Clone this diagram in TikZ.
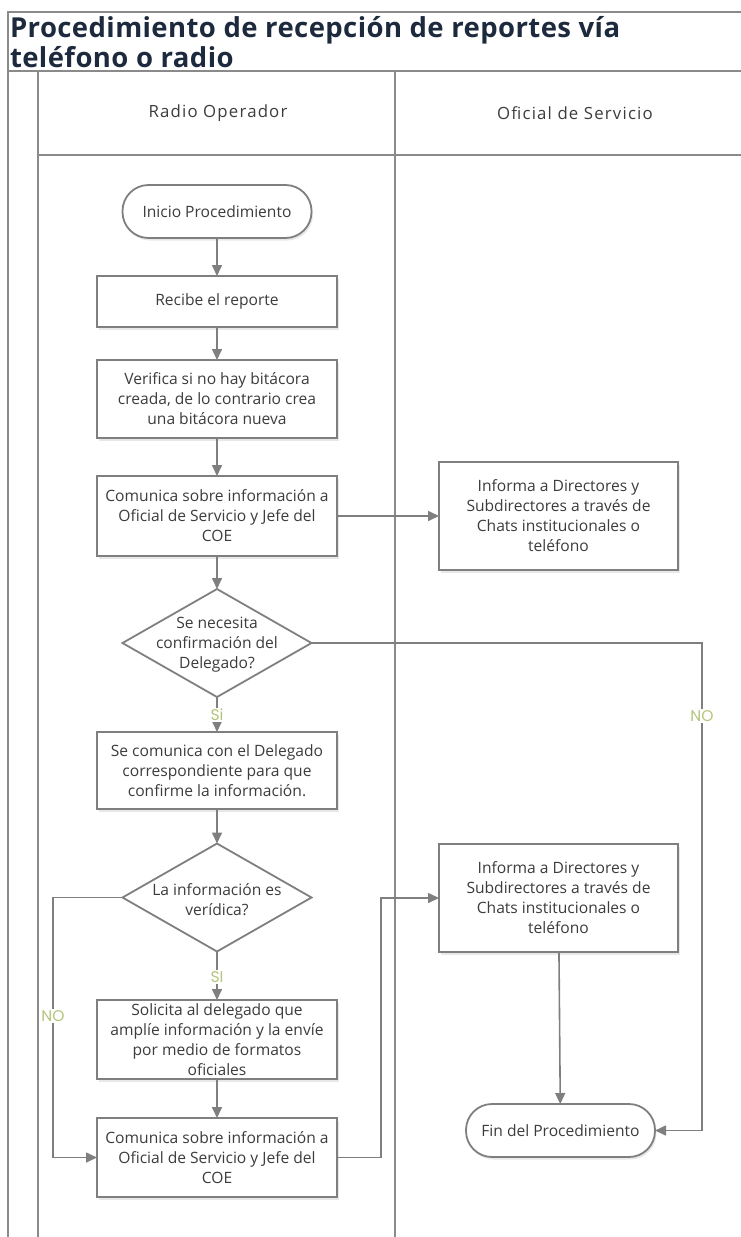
\documentclass[tikz,border=0pt]{standalone}
\usepackage{fontspec}
\setmainfont{Open Sans}
\newfontfamily\headfont{Open Sans}[LetterSpace=7]
\newfontfamily\titlefont{Open Sans}[LetterSpace=1.5]
\newfontfamily\tagfont{Poppins}
\usetikzlibrary{arrows.meta,shapes.geometric,shadows}

\definecolor{linegray}{HTML}{7F7F7F}
\definecolor{lanegray}{HTML}{8A8A8A}
\definecolor{textgray}{HTML}{3C3C3C}
\definecolor{titleblue}{HTML}{1D2A3E}
\definecolor{taggreen}{HTML}{B3C47C}

\begin{document}
\begin{tikzpicture}[x=1pt,y=-1pt,
  every node/.style={inner sep=0pt,outer sep=0pt},
  lane/.style={draw=lanegray,line width=2pt},
  softshadow/.style={drop shadow={opacity=0.18,shadow xshift=1.5pt,shadow yshift=-2.5pt}},
  bodytext/.style={text=textgray,align=center,font=\fontsize{15.6}{20}\selectfont},
  procbox/.style={rectangle,draw=linegray,line width=1.8pt,fill=white,
    minimum width=#1,softshadow,bodytext},
  procbox/.default=240pt,
  terminal/.style={rectangle,rounded corners=26pt,draw=linegray,line width=1.8pt,
    fill=white,minimum width=189pt,minimum height=53pt,softshadow,bodytext},
  decision/.style={diamond,draw=linegray,line width=1.8pt,fill=white,
    minimum width=189pt,minimum height=108pt},
  conn/.style={draw=linegray,line width=1.6pt,-{Triangle[length=11pt,width=10pt]}},
  tag/.style={fill=white,inner sep=1pt,text=taggreen,font=\tagfont\fontsize{15.5}{16}\selectfont},
  header/.style={text=textgray,font=\headfont\fontsize{16.8}{18}\selectfont},
  titletext/.style={anchor=base west,text=titleblue,font=\titlefont\bfseries\fontsize{27.5}{30}\selectfont}
]
\useasboundingbox (0,0) rectangle (740,1237);

% pool frame and swimlanes
\draw[lane] (8,1240) -- (8,12) -- (742,12);
\draw[lane] (8,71) -- (742,71);
\draw[lane] (37.5,71) -- (37.5,1240);
\draw[lane] (37.5,155) -- (742,155);
\draw[lane] (395,71) -- (395,1240);

% title and lane headers
\node[titletext] (title1) at (10,37) {Procedimiento de recepción de reportes vía};
\node[titletext] (title2) at (10,67) {teléfono o radio};
\node[header] (lane1) at (218,113) {Radio Operador};
\node[header] (lane2) at (575,113) {Oficial de Servicio};

% Radio Operador lane
\node[terminal] (start) at (217,211.5) {Inicio Procedimiento};
\node[procbox,minimum height=51pt] (recibe) at (217,301.5) {Recibe el reporte};
\node[procbox,minimum height=78pt] (verifica) at (217,399)
  {Verifica si no hay bitácora\\creada, de lo contrario crea\\una bitácora nueva};
\node[procbox,minimum height=80pt] (com1) at (217,516)
  {Comunica sobre información a\\Oficial de Servicio y Jefe del\\COE};
\node[decision] (d1) at (217,643) {};
\node[bodytext] (d1t) at (217,645) {Se necesita\\confirmación del\\Delegado?};
\node[procbox,minimum height=77pt] (contacta) at (217,770.5)
  {Se comunica con el Delegado\\correspondiente para que\\confirme la información.};
\node[decision] (d2) at (217,897.5) {};
\node[bodytext] (d2t) at (217,900) {La información es\\verídica?};
\node[procbox,minimum height=79pt] (solicita) at (217,1039.5)
  {Solicita al delegado que\\amplíe información y la envíe\\por medio de formatos\\oficiales};
\node[procbox,minimum height=79pt] (com2) at (217,1157.5)
  {Comunica sobre información a\\Oficial de Servicio y Jefe del\\COE};

% Oficial de Servicio lane
\node[procbox=239pt,minimum height=108pt] (inf1) at (558.5,516)
  {Informa a Directores y\\Subdirectores a través de\\Chats institucionales o\\teléfono};
\node[procbox=239pt,minimum height=108pt] (inf2) at (558.5,898)
  {Informa a Directores y\\Subdirectores a través de\\Chats institucionales o\\teléfono};
\node[terminal] (fin) at (560.5,1130.5) {Fin del Procedimiento};

% bend points
\coordinate (noR) at (702,643);
\coordinate (noL) at (53,897.5);
\coordinate (upR) at (381,1157.5);

% connectors
\draw[conn] (start) -- (recibe);
\draw[conn] (recibe) -- (verifica);
\draw[conn] (verifica) -- (com1);
\draw[conn] (com1) -- (inf1);
\draw[conn] (com1) -- (d1);
\draw[conn] (d1.south) -- (contacta);
\draw[conn] (d1.east) -- (noR) |- (fin.east);
\draw[conn] (contacta) -- (d2);
\draw[conn] (d2.south) -- (solicita);
\draw[conn] (d2.west) -- (noL) |- (com2.west);
\draw[conn] (solicita) -- (com2);
\draw[conn] (com2.east) -- (upR) |- (inf2.west);
\draw[conn] (inf2) -- (fin);

% branch labels
\node[tag] (si1) at (217,715) {Si};
\node[tag] (no1) at (702,716) {NO};
\node[tag] (si2) at (217,977) {SI};
\node[tag] (no2) at (53,1016) {NO};
\end{tikzpicture}
\end{document}
